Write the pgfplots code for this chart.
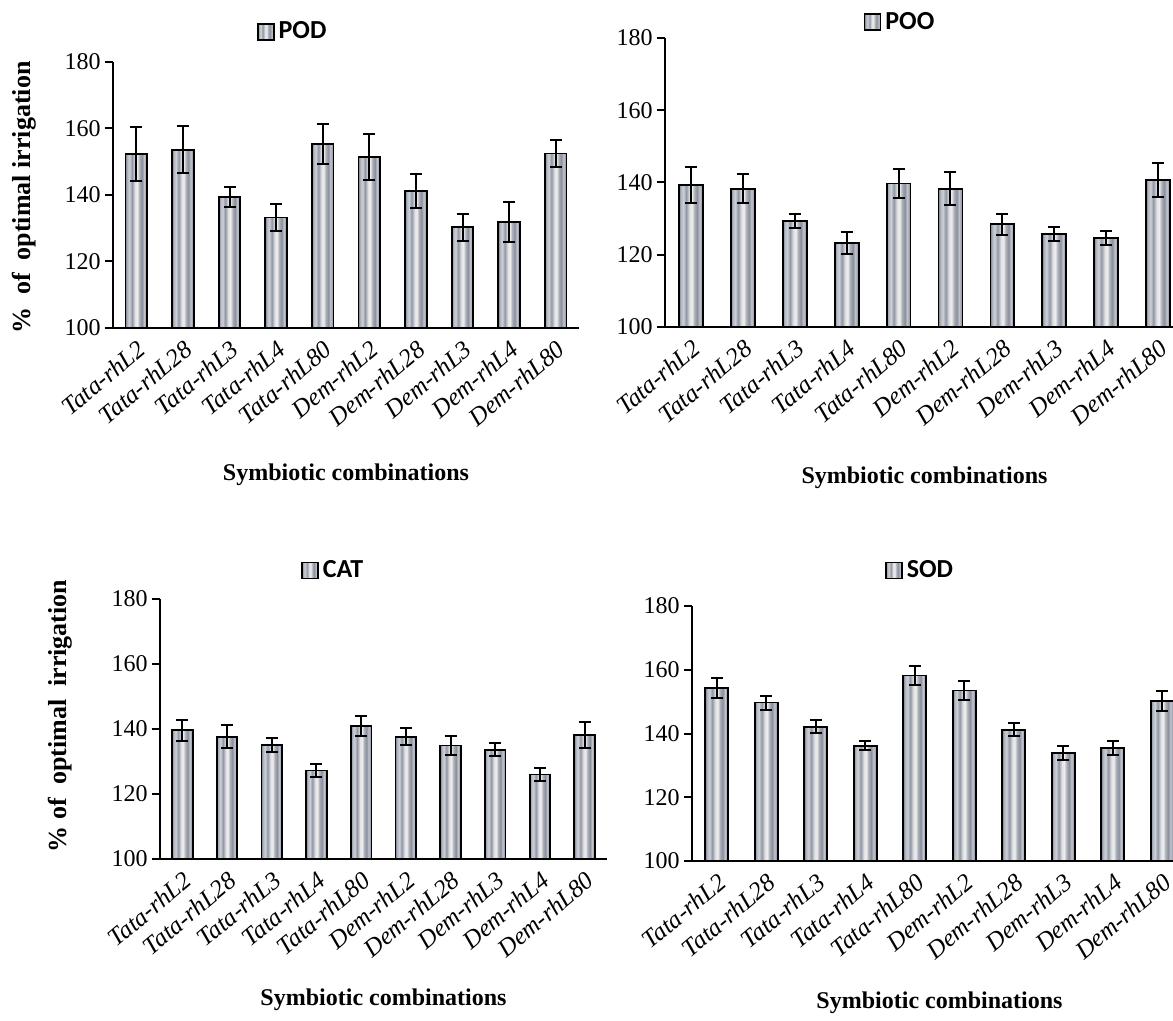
\documentclass[border=0pt]{standalone}
\usepackage{fontspec}
\setmainfont{Liberation Serif}
\newfontfamily\calibri{Carlito}
\usepackage{pgfplots}
\usepackage{pgfplotstable}
\pgfplotsset{compat=1.18}
\definecolor{b1}{HTML}{7C8293}
\definecolor{b2}{HTML}{B4B8C2}
\definecolor{b3}{HTML}{CDD0D6}
\definecolor{b4}{HTML}{9096A4}
\definecolor{b5}{HTML}{E2E2E4}
\definecolor{b6}{HTML}{EEEEEE}
\definecolor{b7}{HTML}{ACB0BA}
\definecolor{b8}{HTML}{8A8F9D}
\definecolor{b9}{HTML}{C2C5CC}
\definecolor{b10}{HTML}{9CA1AD}
\definecolor{b11}{HTML}{777D8E}
\pgfdeclarehorizontalshading{barshade}{100bp}{color(0bp)=(b1); color(25bp)=(b1); color(29bp)=(b2); color(34bp)=(b3); color(40bp)=(b4); color(47bp)=(b5); color(52bp)=(b6); color(57bp)=(b7); color(63bp)=(b8); color(68bp)=(b9); color(72bp)=(b10); color(75bp)=(b11); color(100bp)=(b11)}

\pgfplotstableread{
x y e
0 152.3 8
1 153.6 7
2 139.4 3
3 133.2 4
4 155.3 6
5 151.4 7
6 141.2 5
7 130.3 4
8 131.8 6
9 152.5 4
}\podtab
\pgfplotstableread{
x y e
0 139.4 5
1 138.3 4
2 129.3 2
3 123.2 3
4 139.7 4
5 138.3 4.5
6 128.4 3
7 125.8 2
8 124.7 2
9 140.8 4.7
}\pootab
\pgfplotstableread{
x y e
0 139.6 3.3
1 137.6 3.5
2 135.1 2.1
3 127.2 2
4 141.0 3.1
5 137.6 2.6
6 134.9 2.9
7 133.6 2
8 126.0 2.1
9 138.1 3.9
}\cattab
\pgfplotstableread{
x y e
0 154.3 3.1
1 149.7 2.2
2 142.1 2
3 136.2 1.4
4 158.2 3
5 153.5 3
6 141.2 2.1
7 133.9 2.2
8 135.5 2.1
9 150.2 3
}\sodtab

\pgfplotsset{
 panel/.style={
  scale only axis, anchor=south west,
  ybar, bar width=0.46, bar shift=0pt,
  xmin=-0.5, xmax=9.5, ymin=100, ymax=180, ytick={100,120,...,180},
  xtick={0,...,9},
  xticklabels={Tata-rhL2,Tata-rhL28,Tata-rhL3,Tata-rhL4,Tata-rhL80,Dem-rhL2,Dem-rhL28,Dem-rhL3,Dem-rhL4,Dem-rhL80},
  axis x line*=bottom, axis y line*=left,
  axis line style={line width=1pt, black},
  x tick style={draw=none},
  y tick style={line width=1pt, black},
  tick align=outside, major tick length=4pt,
  /pgf/number format/assume math mode=true,
  yticklabel style={font=\fontsize{12}{14}\selectfont, inner sep=2pt},
  xticklabel style={font=\itshape\fontsize{12.5}{15}\selectfont, rotate=40, anchor=north east, inner sep=1pt},
  xlabel={Symbiotic combinations},
  label style={font=\bfseries\fontsize{12}{14}\selectfont},
  ylabel style={font=\bfseries\fontsize{13}{15}\selectfont},
  xlabel style={at={(axis description cs:0.5,-0.55)}, anchor=center},
  legend style={draw=none, fill=none, font=\calibri\bfseries\fontsize{13}{15}\selectfont, anchor=center, inner sep=0pt},
  legend image code/.code={\path[draw=black, line width=0.7pt, shading=barshade] (0pt,-4pt) rectangle (8pt,4pt);},
 },
 barplot/.style={draw=black, line width=0.9pt, shading=barshade, forget plot,
  error bars/y dir=both, error bars/y explicit,
  error bars/error bar style={line width=1pt, draw=black, shade=false},
  error bars/error mark options={rotate=90, mark size=3pt, line width=1pt, draw=black, shade=false}},
}
\newcommand{\bars}[1]{%
  \pgfplotsinvokeforeach{0,...,9}{%
    \addplot[restrict expr to domain={\coordindex}{##1:##1}, barplot] table[x=x, y=y, y error=e] {#1};
  }%
}

\begin{document}
\begin{tikzpicture}
\path[use as bounding box, clip] (0,0) rectangle (586.5pt,510.5pt);
% POD
\begin{axis}[panel, at={(56.5pt,346.5pt)}, width=233pt, height=133pt,
  ylabel={\%\ \ of\ \ optimal irrigation},
  ylabel style={at={(axis description cs:-0.19,0.49)}, anchor=center},
  legend style={at={(0.388,1.113)}}]
\bars{\podtab}
\addlegendimage{}
\addlegendentry{POD}
\end{axis}
% POO
\begin{axis}[panel, at={(332.5pt,347pt)}, width=259.5pt, height=144.5pt,
  xlabel style={at={(axis description cs:0.5,-0.52)}},
  legend style={at={(0.455,1.055)}}]
\bars{\pootab}
\addlegendimage{}
\addlegendentry{POO}
\end{axis}
% CAT
\begin{axis}[panel, at={(80pt,81pt)}, width=223.5pt, height=130pt,
  ylabel={\% of\ \ optimal\ \ irrigation},
  ylabel style={at={(axis description cs:-0.224,0.55)}, anchor=center},
  xlabel style={at={(axis description cs:0.5,-0.54)}},
  legend style={at={(0.39,1.11)}}]
\bars{\cattab}
\addlegendimage{}
\addlegendentry{CAT}
\end{axis}
% SOD
\begin{axis}[panel, at={(346pt,80pt)}, width=247.5pt, height=127.5pt,
  xlabel style={at={(axis description cs:0.5,-0.557)}},
  legend style={at={(0.463,1.14)}}]
\bars{\sodtab}
\addlegendimage{}
\addlegendentry{SOD}
\end{axis}
\end{tikzpicture}
\end{document}
